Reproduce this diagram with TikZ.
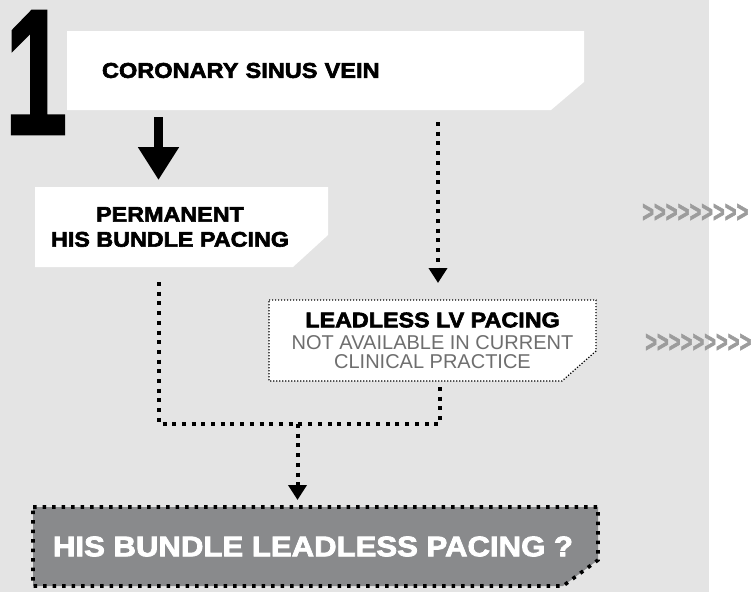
\documentclass[tikz,border=0pt]{standalone}
\usepackage{fontspec}
\setmainfont{Liberation Sans}
\newfontfamily\blk{Liberation Sans}[BoldFeatures={FakeStretch=1.1,FakeBold=2.8}]
\newfontfamily\onefont{Liberation Sans}[BoldFeatures={FakeBold=1.5}]
\newfontfamily\chevfont{Liberation Sans}[BoldFeatures={FakeBold=2}]
\usetikzlibrary{arrows.meta,backgrounds}
\definecolor{bg}{HTML}{E4E4E4}
\definecolor{hbfill}{HTML}{898A8C}
\definecolor{subtxt}{HTML}{6E6E6E}
\definecolor{chev}{HTML}{9C9C9C}
\begin{document}
\begin{tikzpicture}[x=1pt,y=-1pt,
  boxnode/.style={rectangle, inner sep=0pt, outer sep=0pt},
  bigdots/.style={line width=4pt, dash pattern=on 4pt off 5.7pt},
  borderdots/.style={line width=3.6pt, dash pattern=on 3.6pt off 5.9pt},
  finedots/.style={line width=1.2pt, dash pattern=on 1.2pt off 1.8pt},
  smalltip/.style={-{Triangle[width=18pt,length=15pt]}},
  chevnode/.style={anchor=west, inner sep=0pt, text=chev, font=\chevfont\bfseries\fontsize{20.2}{22}\selectfont}
]
\useasboundingbox (0,0) rectangle (751,592);

% boxes
\node[boxnode, minimum width=517pt, minimum height=79pt, text width=447pt, inner xsep=35pt, align=left,
      font=\blk\bfseries\fontsize{21.4}{24}\selectfont] (cs) at (325.5,70.5) {CORONARY SINUS VEIN};
\node[boxnode, minimum width=293pt, minimum height=80pt, align=center,
      font=\blk\bfseries\fontsize{21.2}{25}\selectfont] (perm) at (181.5,227)
      {PERMANENT\hspace*{23pt}\\HIS BUNDLE PACING\hspace*{23pt}};
\node[boxnode, minimum width=327pt, minimum height=81pt, align=center, text=subtxt,
      font=\fontsize{20}{19}\selectfont] (lv) at (432.5,340.5)
      {{\blk\bfseries\fontsize{21.2}{19}\selectfont\color{black}LEADLESS LV PACING}\\[3pt]
       NOT AVAILABLE IN CURRENT\\CLINICAL PRACTICE};
\node[boxnode, minimum width=565pt, minimum height=79pt, text=white,
      font=\blk\bfseries\fontsize{28.3}{30}\selectfont] (hb) at (315.5,546.5)
      {HIS BUNDLE LEADLESS PACING ?\hspace*{5pt}};

% big numeral
\node[inner sep=0pt, anchor=base west, font=\onefont\bfseries\fontsize{179}{181}\selectfont] (one) at (4.5,134.1) {\scalebox{0.63}[1]{1}};

% chevrons
\node[chevnode] (chevA) at (642,213) {\scalebox{1}[1.5]{>>>>>>>>>}};
\node[chevnode] (chevB) at (645,343) {\scalebox{1}[1.5]{>>>>>>>>>}};

% connectors
\draw[line width=9pt, -{Triangle[width=39pt,length=33pt]}, shorten <=7pt, shorten >=7pt]
  ([xshift=91.5pt]cs.south west) -- ([xshift=123.5pt]perm.north west);
\draw[bigdots, smalltip, shorten <=12pt, shorten >=17pt]
  ([xshift=371pt]cs.south west) -- ([xshift=169pt]lv.north west);
\coordinate (j) at (297.5,424);
\draw[bigdots, shorten <=15pt] ([xshift=124pt]perm.south west) |- (j);
\draw[bigdots, shorten <=6pt] ([xshift=171pt]lv.south west) |- (j);
\draw[bigdots, smalltip, shorten >=7pt] (j) -- (j |- hb.north);

\begin{scope}[on background layer]
  \fill[bg] (0,0) rectangle (709,592);
  \fill[white] (cs.north west) -- (cs.north east) -- ([yshift=28pt]cs.south east)
    -- ([xshift=-33pt]cs.south east) -- (cs.south west) -- cycle;
  \fill[white] (perm.north west) -- (perm.north east) -- ([yshift=32pt]perm.south east)
    -- ([xshift=-35pt]perm.south east) -- (perm.south west) -- cycle;
  \filldraw[fill=white, finedots] (lv.north west) -- (lv.north east) -- ([yshift=30pt]lv.south east)
    -- ([xshift=-34pt]lv.south east) -- (lv.south west) -- cycle;
  \filldraw[fill=hbfill, borderdots] (hb.north west) -- (hb.north east) -- ([yshift=26pt]hb.south east)
    -- ([xshift=-35pt]hb.south east) -- (hb.south west) -- cycle;
\end{scope}
\end{tikzpicture}
\end{document}
